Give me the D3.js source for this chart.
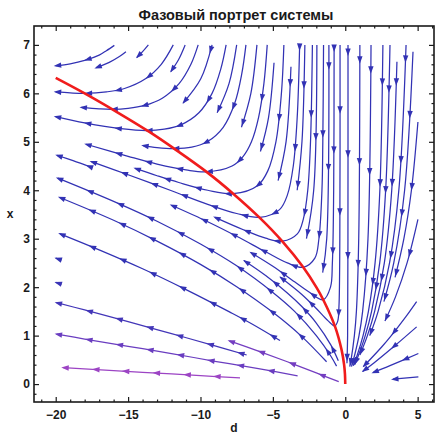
<!DOCTYPE html>
<html>
<head>
<meta charset="utf-8">
<script src="https://cdn.jsdelivr.net/npm/d3@7"></script>
<style>
  body { margin: 0; background: #fff; }
  svg { display: block; }
  text { font-family: "Liberation Sans", Arial, sans-serif; }
</style>
</head>
<body>
<svg id="chart" width="436" height="436"></svg>
<script>
// ---- данные: точки [d, x] в порядке движения по линии ----

// красная кривая
const redD = [0, -0.02, -0.08, -0.25, -0.71, -1.52, -1.98, -2.9, -4.33, -5.9, -7.74, -9.58, -11.77, -13.5, -15.8, -18.0, -20];
const redX = [0, 0.2, 0.4, 0.7, 1.19, 1.74, 1.99, 2.41, 2.94, 3.43, 3.93, 4.38, 4.85, 5.2, 5.62, 6.0, 6.32];

// верхнее семейство (U-образные линии)
const upperLines = [
  [[-15.95,6.99],[-16.5,6.88],[-17,6.79],[-18,6.68],[-19,6.61],[-20,6.57]],
  [[-15.15,6.86],[-15.6,6.76],[-16.3,6.64],[-17.2,6.53]],
  [[-13.6,7.0],[-14.0,6.86],[-14.4,6.74]],
  [[-11.88,7],[-12.71,6.6],[-13.8,6.3],[-15.25,6.1],[-16.5,6.03],[-18,6.0],[-19,6.01],[-20,6.03]],
  [[-11.06,7],[-11.51,6.7],[-12.05,6.45]],
  [[-10.16,7],[-10.66,6.6],[-11.48,6.2],[-12.64,5.9],[-13.87,5.75],[-15,5.69],[-16.1,5.67],[-17,5.68],[-18.22,5.71]],
  [[-9.2,7],[-9.98,6.3],[-11.2,5.8]],
  [[-8.23,7],[-8.6,6.5],[-9.2,6],[-10.11,5.6],[-11.36,5.35],[-12.5,5.26],[-13.7,5.23],[-15.5,5.27],[-18,5.39],[-20,5.52]],
  [[-7.5,7],[-8.03,6.2],[-8.85,5.6]],
  [[-6.86,7],[-7.15,6.4],[-7.63,5.8],[-8.43,5.3],[-9.54,5.0],[-10.6,4.89],[-11.8,4.86],[-13,4.88],[-13.96,4.92]],
  [[-6.1,7],[-6.52,6],[-7.17,5.3]],
  [[-5.39,7],[-5.62,6.2],[-5.99,5.5],[-6.48,5.0],[-7.05,4.7],[-7.82,4.5],[-9.6,4.38],[-11,4.42],[-13,4.54],[-15,4.7],[-17.9,4.95]],
  [[-4.92,6.63],[-5.3,5.5],[-5.86,4.8]],
  [[-4.24,7],[-4.41,6],[-4.79,5],[-5.35,4.4],[-6.04,4.1],[-7.74,3.93],[-9.5,4.0],[-11.5,4.16],[-13,4.3],[-14.5,4.45]],
  [[-3.75,6.55],[-4.09,5],[-4.64,4.2]],
  [[-3.15,7],[-3.32,5.5],[-3.59,4.5],[-4.0,3.9],[-4.54,3.6],[-5.9,3.44],[-7.5,3.52],[-9.5,3.71],[-12,3.99],[-15,4.32],[-17.53,4.59]],
  [[-2.79,7],[-2.99,5],[-3.32,4]],
  [[-2.27,7],[-2.4,5],[-2.59,4],[-2.9,3.4],[-3.31,3.1],[-4.34,2.95],[-5.5,3.01],[-7,3.18],[-9,3.44]],
  [[-17.6,4.48],[-18.8,4.61],[-19.9,4.72]],
  [[-1.96,7],[-2.18,4],[-2.68,3]],
  [[-1.5,7],[-1.55,5],[-1.61,4],[-1.82,3],[-2.1,2.6],[-2.9,2.41],[-4,2.5],[-5.5,2.73],[-7.5,3.05],[-9.5,3.35],[-12,3.69]],
  [[-1.13,7],[-1.28,3],[-1.56,2.3]],
  [[-0.77,7],[-0.8,4],[-0.89,2.5],[-1.02,2.0],[-1.52,1.74],[-2.5,1.9],[-3.5,2.11],[-5,2.43],[-6.5,2.71]],
  [[-0.36,7],[-0.375,3],[-0.435,1.6],[-0.52,1.3],[-0.72,1.2],[-1.2,1.31],[-2,1.56],[-3,1.85],[-4.5,2.21]]
];

// правая часть (d > 0), линии идут вниз к началу координат
const rightLines = [
  [[0.19,7],[0.186,3],[0.163,1],[0.117,0.43]],
  [[1.01,7],[0.93,3],[0.77,1.5],[0.63,1],[0.4,0.5],[0.31,0.36]],
  [[1.78,7],[1.57,3],[1.2,1.5],[0.95,1],[0.65,0.6],[0.43,0.36]],
  [[2.6,7],[2.39,4],[2.06,2.5],[1.6,1.5],[1.23,1],[0.83,0.6],[0.56,0.38]],
  [[3.09,7],[2.79,4],[2.38,2.5],[1.82,1.5],[1.38,1],[0.92,0.6],[0.65,0.4]],
  [[3.57,6.65],[3.21,4],[2.7,2.5],[2.03,1.5],[1.53,1],[1.01,0.6]],
  [[4.2,7],[3.7,4],[3.06,2.5],[2.27,1.5],[1.69,1]],
  [[4.68,6.86],[4.1,4],[3.35,2.5],[2.67,1.7]],
  [[5.02,5.41],[4.57,4],[4.05,3],[3.44,2.2]],
  [[5.02,3.4],[4.27,2.5],[3.47,1.8],[2.74,1.3]],
  [[4.93,1.7],[4.19,1.39],[3.18,1.0],[2.53,0.77],[1.25,0.36]],
  [[4.93,1.18],[3.5,0.81],[2,0.44],[1.2,0.26]],
  [[5.05,0.63],[3.09,0.38],[1.94,0.24]],
  [[5.05,0.15],[3.3,0.1]]
];

// левый веер из начала координат
const fanLines = [
  [[-7.27,0.127],[-10,0.175],[-13,0.226],[-16,0.278],[-19.48,0.338]],
  [[-3.29,0.17],[-6,0.32],[-9,0.47],[-12,0.63],[-15,0.78],[-18,0.93],[-19.94,1.03]],
  [[-6.81,0.6],[-9,0.79],[-12,1.04],[-15,1.29],[-18,1.53],[-19.94,1.68]],
  [[-4.51,0.9],[-6.5,1.25],[-8,1.49],[-11,1.95],[-14,2.38],[-17,2.77],[-19.7,3.1]],
  [[-1.29,0.46],[-3,0.98],[-5,1.48],[-7.5,2.01],[-10,2.47],[-13,2.95],[-16,3.38],[-19.72,3.85]],
  [[-0.6,0.37],[-1,0.58],[-2,1.0],[-3.5,1.5],[-5,1.89],[-7.5,2.44],[-10,2.89],[-13,3.36],[-16,3.77],[-19.86,4.25]],
  [[-0.45,0.05],[-2,0.23],[-4,0.46],[-6,0.68],[-8,0.89]],
  [[-0.48,0.48],[-1,0.81],[-2,1.26],[-3,1.6],[-4,1.88],[-5.5,2.24],[-7,2.55]],
  [[-19.6,2.56],[-20,2.6]],
  [[-19.6,2.06],[-20,2.1]]
];

const dTicks = [-20, -15, -10, -5, 0, 5];
const xTicks = [0, 1, 2, 3, 4, 5, 6, 7];
const titleText = "Фазовый портрет системы";

// ---- рисунок ----
const svg = d3.select("#chart");
const xs = d3.scaleLinear().domain([-21.5, 6.13]).range([34, 434]);
const ys = d3.scaleLinear().domain([-0.37, 7.39]).range([402, 26]);

svg.append("defs").append("clipPath").attr("id", "clip")
  .append("rect").attr("x", 34).attr("y", 26).attr("width", 400).attr("height", 376);

const plot = svg.append("g").attr("clip-path", "url(#clip)");
const lineGen = d3.line()
  .x(p => xs(p[0]))
  .y(p => ys(p[1]))
  .curve(d3.curveCatmullRom.alpha(0.5));

const BLUE = "#3232b4";
// цвет нижних линий веера зависит от высоты конца линии
const fanColor = d3.scaleLinear()
  .domain([0.34, 1.03, 1.7, 2.5])
  .range(["#9c44c4", "#6a3dc0", "#4236b8", BLUE])
  .clamp(true);

function arrowHead(x, y, ux, uy, color) {
  const nx = -uy, ny = ux;
  const tip = [x + ux * 3, y + uy * 3];
  const bx = x - ux * 4.5, by = y - uy * 4.5;
  plot.append("path")
    .attr("d", "M" + tip + "L" + [bx + nx * 2.7, by + ny * 2.7] + "L" + [bx - nx * 2.7, by - ny * 2.7] + "Z")
    .attr("fill", color);
}

// стрелки через равные промежутки длины (в единицах данных), считая от конца линии
function addArrows(node, color) {
  const L = node.getTotalLength();
  const n = Math.max(2, Math.ceil(L));
  const pts = d3.range(n + 1).map(i => node.getPointAtLength(L * i / n));
  let acc = 0, next = 0.12;
  for (let i = n; i >= 1; i--) {
    const a = pts[i - 1], b = pts[i];
    acc += Math.hypot(xs.invert(b.x) - xs.invert(a.x), ys.invert(b.y) - ys.invert(a.y));
    if (acc >= next) {
      const len = Math.hypot(b.x - a.x, b.y - a.y) || 1;
      arrowHead(b.x, b.y, (b.x - a.x) / len, (b.y - a.y) / len, color);
      next += 2.1;
    }
  }
}

function drawStream(pts, color) {
  const path = plot.append("path")
    .attr("d", lineGen(pts))
    .attr("fill", "none")
    .attr("stroke", color)
    .attr("stroke-width", 1.25);
  addArrows(path.node(), color);
}

upperLines.forEach(l => drawStream(l, BLUE));
rightLines.forEach(l => drawStream(l, BLUE));
fanLines.forEach(l => drawStream(l, fanColor(l[l.length - 1][1])));

// красная кривая
plot.append("path")
  .attr("d", lineGen(redD.map((d, i) => [d, redX[i]])))
  .attr("fill", "none")
  .attr("stroke", "#f01c1c")
  .attr("stroke-width", 2.6);

// ---- рамка и оси ----
svg.append("rect")
  .attr("x", 34).attr("y", 26).attr("width", 400).attr("height", 376)
  .attr("fill", "none").attr("stroke", "#1a1a1a").attr("stroke-width", 1.6);

const dMinor = d3.range(-21, 7).filter(v => !dTicks.includes(v));
const xMinor = d3.range(0, 36).map(i => +(i * 0.2 - 0.2).toFixed(1)).filter(v => v > -0.37 && v < 7.39 && !xTicks.includes(v));

function styleAxis(g) {
  g.select(".domain").remove();
  g.selectAll(".tick line").attr("stroke", "#1a1a1a").attr("stroke-width", 1.2);
  g.selectAll("text")
    .attr("fill", "#1a1a1a")
    .style("font-family", "'Liberation Sans', Arial, sans-serif")
    .style("font-size", "12px")
    .style("font-weight", "bold");
}

svg.append("g").attr("transform", "translate(0,402)")
  .call(d3.axisBottom(xs).tickValues(dTicks).tickSize(-5).tickPadding(8)).call(styleAxis);
svg.append("g").attr("transform", "translate(0,402)")
  .call(d3.axisBottom(xs).tickValues(dMinor).tickSize(-2.5).tickFormat("")).call(styleAxis);
svg.append("g").attr("transform", "translate(0,26)")
  .call(d3.axisTop(xs).tickValues(dTicks).tickSize(-5).tickFormat("")).call(styleAxis);
svg.append("g").attr("transform", "translate(0,26)")
  .call(d3.axisTop(xs).tickValues(dMinor).tickSize(-2.5).tickFormat("")).call(styleAxis);

svg.append("g").attr("transform", "translate(34,0)")
  .call(d3.axisLeft(ys).tickValues(xTicks).tickSize(-5).tickPadding(4)).call(styleAxis);
svg.append("g").attr("transform", "translate(34,0)")
  .call(d3.axisLeft(ys).tickValues(xMinor).tickSize(-2.5).tickFormat("")).call(styleAxis);
svg.append("g").attr("transform", "translate(434,0)")
  .call(d3.axisRight(ys).tickValues(xTicks).tickSize(-5).tickFormat("")).call(styleAxis);
svg.append("g").attr("transform", "translate(434,0)")
  .call(d3.axisRight(ys).tickValues(xMinor).tickSize(-2.5).tickFormat("")).call(styleAxis);

// подписи
svg.append("text")
  .attr("x", 236).attr("y", 20)
  .attr("text-anchor", "middle")
  .style("font-size", "14.5px").style("font-weight", "bold")
  .attr("fill", "#1a1a1a")
  .text(titleText);

svg.append("text")
  .attr("x", 10).attr("y", 218)
  .attr("text-anchor", "middle")
  .style("font-size", "12px").style("font-weight", "bold")
  .attr("fill", "#1a1a1a")
  .text("x");

svg.append("text")
  .attr("x", 234).attr("y", 432)
  .attr("text-anchor", "middle")
  .style("font-size", "12px").style("font-weight", "bold")
  .attr("fill", "#1a1a1a")
  .text("d");
</script>
</body>
</html>
